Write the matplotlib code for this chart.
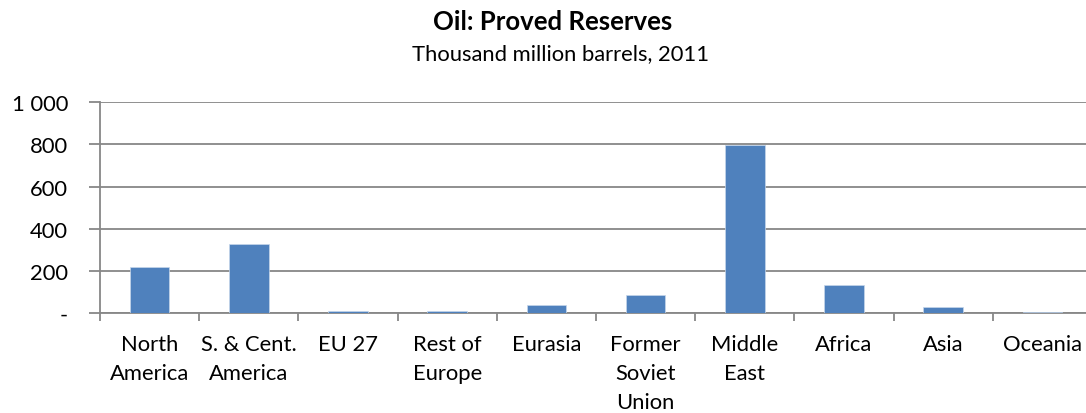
import numpy as np
import matplotlib
matplotlib.use("Agg")
import matplotlib.pyplot as plt
from matplotlib.ticker import FuncFormatter

# proved oil reserves by region, thousand million barrels
regions = ["North\nAmerica", "S. & Cent.\nAmerica", "EU 27", "Rest of\nEurope",
           "Eurasia", "Former\nSoviet\nUnion", "Middle\nEast", "Africa", "Asia", "Oceania"]
reserves = [217, 326, 9, 9, 36, 87, 796, 131, 30, 7]
y_ticks = [0, 200, 400, 600, 800, 1000]

plt.rcParams['font.family'] = ['Lato', 'DejaVu Sans']

fig = plt.figure(figsize=(10.86, 4.14), dpi=100)
ax = fig.add_axes([0.0921, 0.2415, 0.9134, 0.509])

x = np.arange(len(regions))
ax.bar(x, reserves, width=0.4, color="#4F81BD", edgecolor="#C6D6EA", linewidth=0.5, zorder=3)

ax.set_xlim(-0.5, len(regions) - 0.5)
ax.set_ylim(0, 1000)
ax.set_yticks(y_ticks)

def fmt(v, pos):
    if v == 0:
        return "-"
    return "{:,.0f}".format(v).replace(",", " ")

ax.yaxis.set_major_formatter(FuncFormatter(fmt))
ax.yaxis.grid(True, color="#878787", linewidth=1.3, zorder=0)

# category ticks sit between the bars
ax.set_xticks(np.arange(len(regions) + 1) - 0.5, minor=False)
ax.set_xticklabels([])
ax.set_xticks(x, minor=True)
ax.set_xticklabels(regions, minor=True, fontsize=15.8, linespacing=1.56, va="top")
ax.tick_params(axis="x", which="minor", length=0, pad=15)
ax.tick_params(axis="x", which="major", length=6, width=1.3, color="#878787", direction="out")
ax.tick_params(axis="y", length=8, width=1.3, color="#878787", labelsize=15.8, pad=15)

for side in ["top", "right"]:
    ax.spines[side].set_visible(False)
ax.spines["left"].set_color("#878787")
ax.spines["left"].set_linewidth(1.3)
ax.spines["bottom"].set_color("#878787")
ax.spines["bottom"].set_linewidth(1.3)

fig.text(0.509, 0.948, "Oil: Proved Reserves", ha="center", va="center",
         fontsize=18.5, fontweight="bold")
fig.text(0.516, 0.87, "Thousand million barrels, 2011", ha="center", va="center",
         fontsize=15.8)

fig.savefig("out.png", dpi=100)
